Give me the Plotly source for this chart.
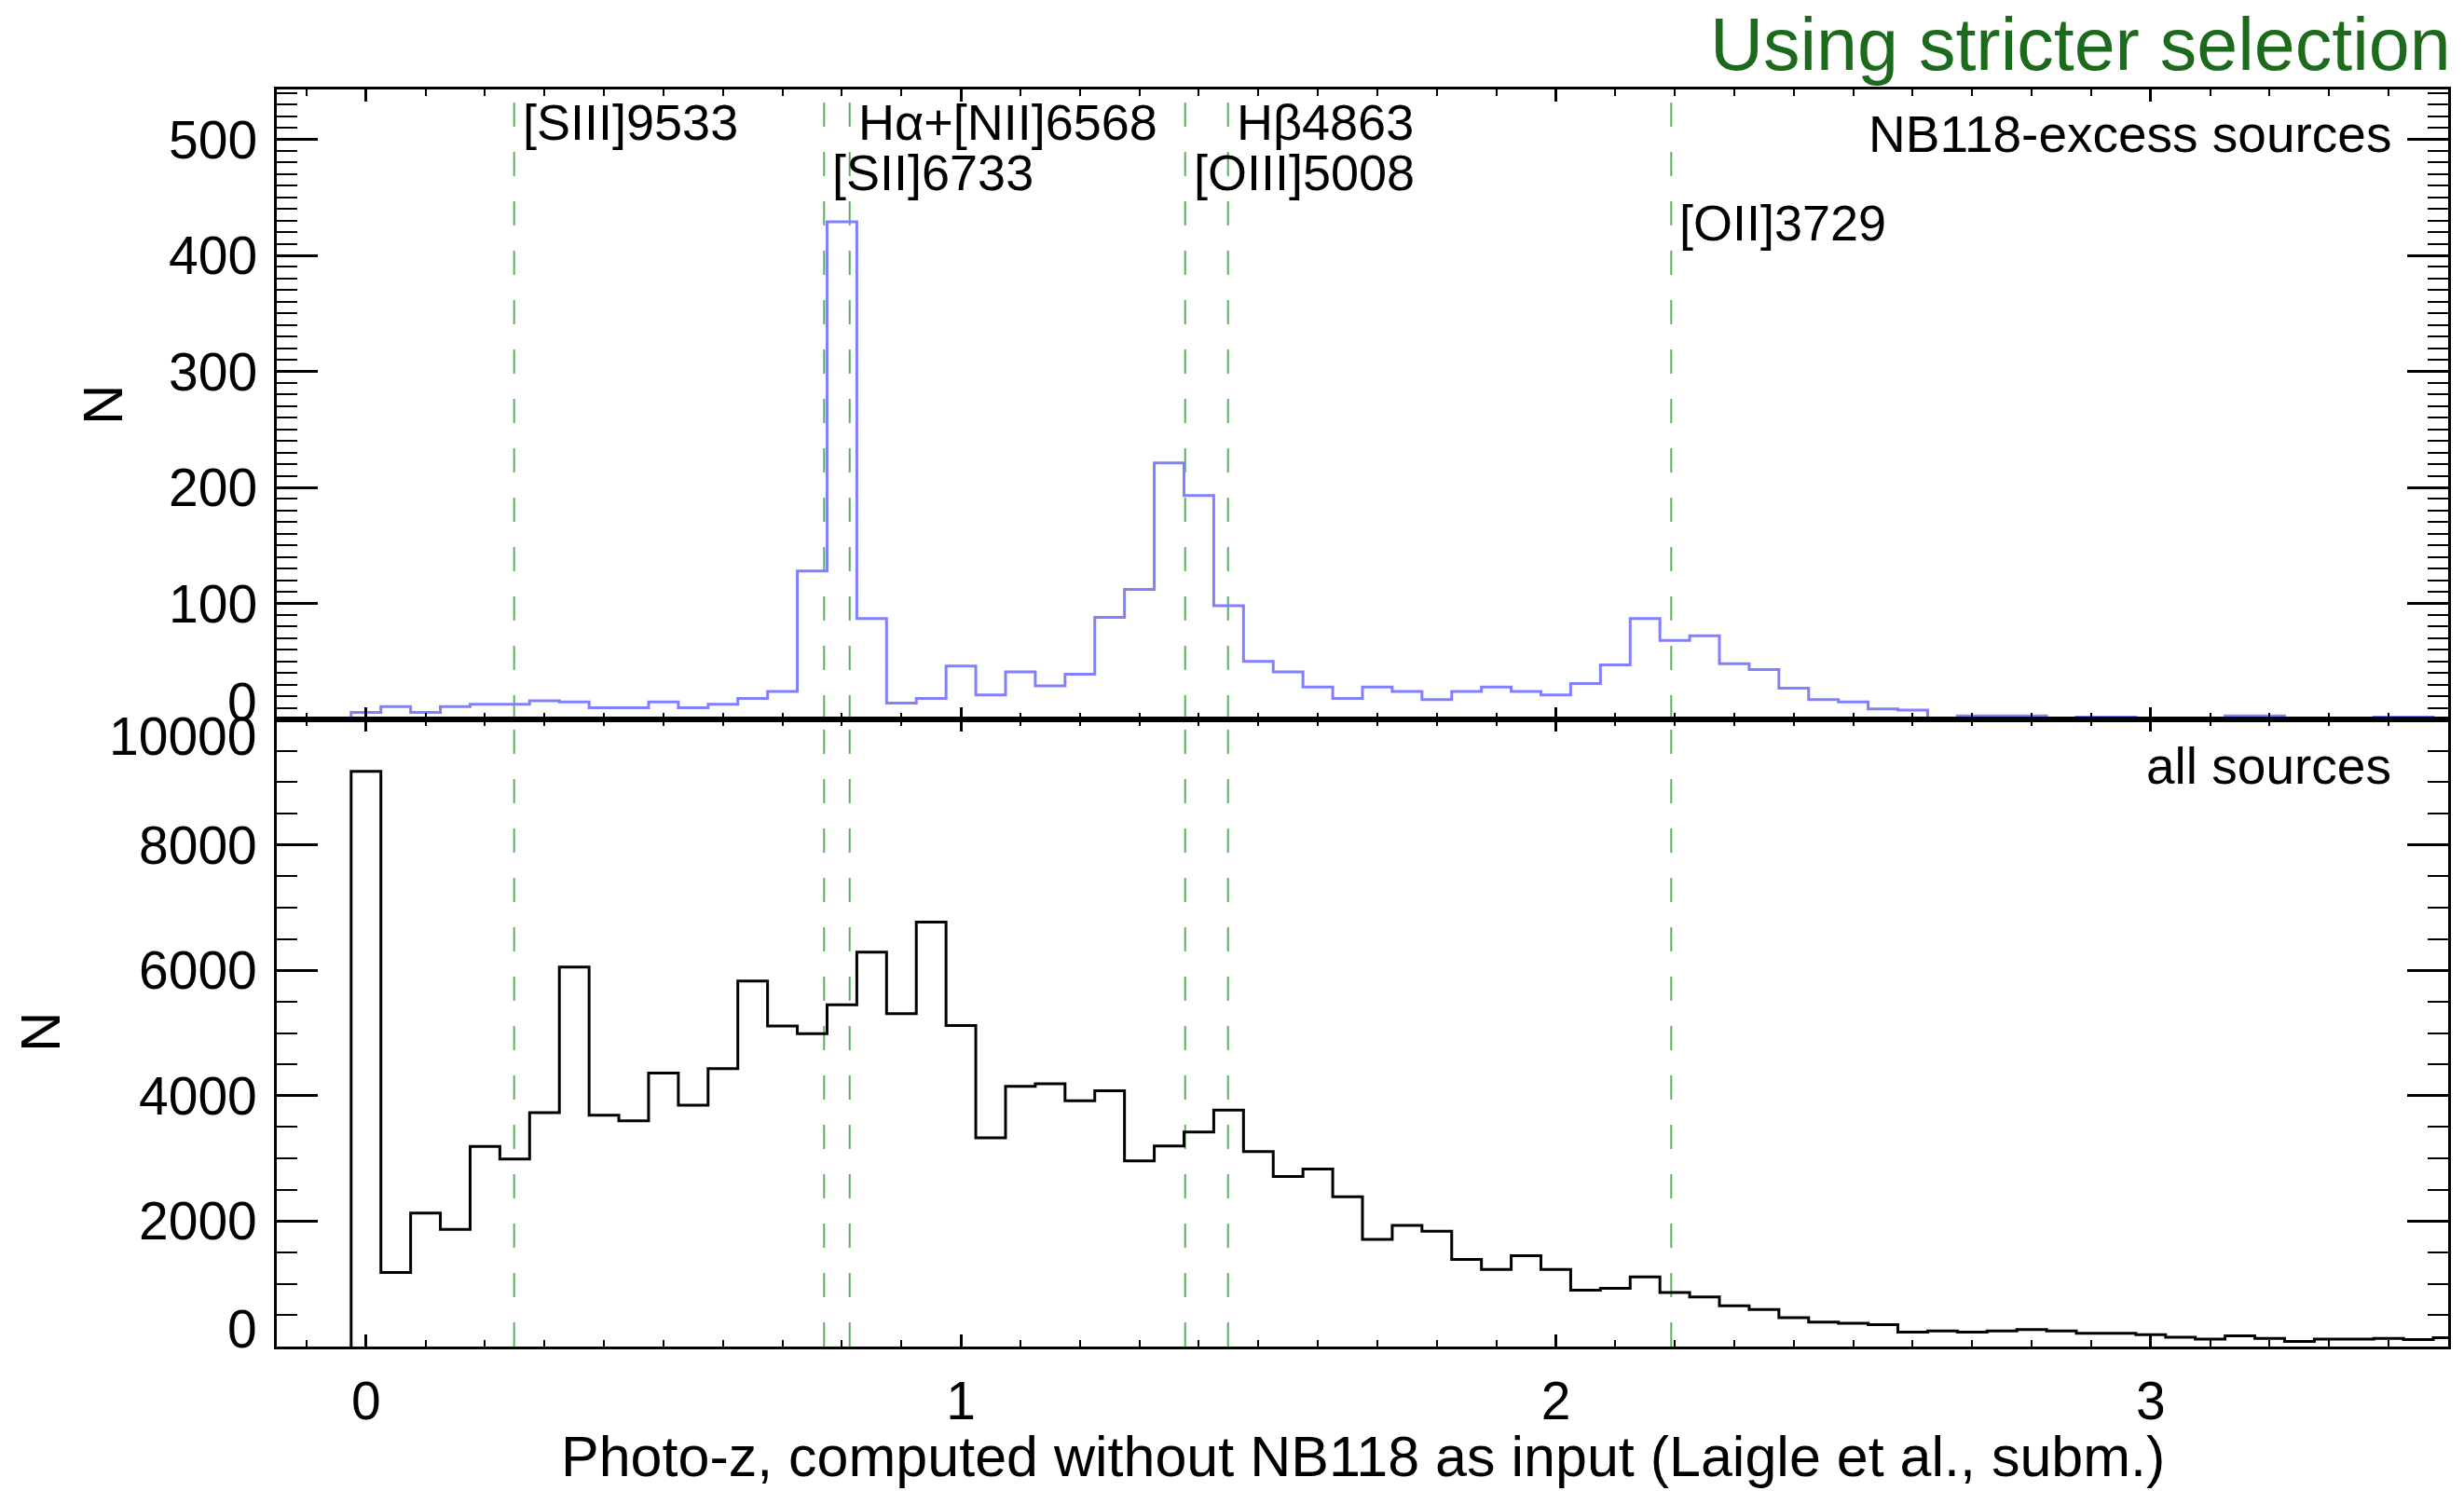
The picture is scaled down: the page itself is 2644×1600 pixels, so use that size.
import numpy as np
import plotly.graph_objects as go

# ---------------------------------------------------------------------------
# Photo-z histograms (bin width 0.05, bins centred on 0.00 ... 3.50)
# ---------------------------------------------------------------------------
BIN_WIDTH = 0.05
z_centers = np.round(np.arange(71) * BIN_WIDTH, 2)

# NB118-excess sources
n_excess = [
    6, 11, 6, 11, 13, 13, 16, 15, 10, 10,
    15, 10, 13, 18, 24, 128, 429, 87, 14, 18,
    46, 21, 41, 29, 39, 88, 112, 221, 193, 98,
    50, 41, 28, 18, 28, 24, 17, 24, 28, 24,
    21, 31, 47, 87, 68, 72, 48, 43, 27, 17,
    15, 9, 8, 1, 3, 3, 3, 1, 2, 2,
    0, 1, 1, 3, 3, 0, 1, 0, 2, 2,
    0,
]

# all sources
n_all = [
    9170, 1180, 2130, 1870, 3190, 2990, 3730, 6050, 3690, 3600,
    4360, 3850, 4430, 5830, 5110, 4990, 5450, 6290, 5310, 6770,
    5120, 3330, 4150, 4190, 3920, 4080, 2960, 3200, 3420, 3770,
    3110, 2710, 2830, 2390, 1710, 1930, 1840, 1390, 1230, 1450,
    1230, 900, 930, 1110, 860, 790, 650, 590, 460, 390,
    370, 350, 230, 250, 230, 250, 270, 250, 210, 210,
    190, 150, 120, 170, 130, 80, 120, 120, 130, 110,
    140,
]

# Emission lines falling in NB118 and the redshift at which they do
line_names = ["[SIII]9533", "[SII]6733", "H\u03b1+[NII]6568",
              "[OIII]5008", "H\u03b24863", "[OII]3729"]
line_z = [0.249, 0.770, 0.813, 1.377, 1.449, 2.194]
line_label_row = [0, 1, 0, 1, 0, 2]

# Axis ticks
x_ticks = [0, 1, 2, 3]
top_y_ticks = [0, 100, 200, 300, 400, 500]
bottom_y_ticks = [0, 2000, 4000, 6000, 8000, 10000]

X_RANGE = [-0.15, 3.5]
TOP_Y_RANGE = [0, 543]
BOTTOM_Y_RANGE = [0, 10000]

# ---------------------------------------------------------------------------
# Layout geometry (pixels on a 2644 x 1600 canvas)
# ---------------------------------------------------------------------------
W, H = 2644, 1600
PLOT_LEFT, PLOT_RIGHT = 297, 2627
TOP_PANEL = (96, 772)       # top / bottom pixel rows
BOTTOM_PANEL = (772, 1445)


def px_x(px):
    return px / W


def px_y(py):
    return 1 - py / H


FONT = "Liberation Sans, Arial, Helvetica, sans-serif"
BLUE = "#8080ff"
GREEN_LINE = "#5cb05c"
GREEN_TITLE = "#1c6a1c"


def step_xy(centers, counts, width):
    """Outline of a histogram drawn as a stepped line."""
    centers = np.asarray(centers, dtype=float)
    counts = np.asarray(counts, dtype=float)
    edges = np.append(centers - width / 2, centers[-1] + width / 2)
    x = np.concatenate([[edges[0]], edges])
    y = np.concatenate([[0.0], counts, [counts[-1]]])
    return x, y


fig = go.Figure()

xs, ys = step_xy(z_centers, n_excess, BIN_WIDTH)
fig.add_trace(go.Scatter(x=xs, y=ys, mode="lines", line_shape="hv",
                         line=dict(color=BLUE, width=3),
                         xaxis="x", yaxis="y", showlegend=False))

xs, ys = step_xy(z_centers, n_all, BIN_WIDTH)
fig.add_trace(go.Scatter(x=xs, y=ys, mode="lines", line_shape="hv",
                         line=dict(color="black", width=3),
                         xaxis="x2", yaxis="y2", showlegend=False))

# Dashed markers for the emission lines in both panels
shapes = []
for z in line_z:
    for xref, yref in (("x", "y domain"), ("x2", "y2 domain")):
        shapes.append(dict(type="line", xref=xref, yref=yref,
                           x0=z, x1=z, y0=0, y1=1,
                           line=dict(color=GREEN_LINE, width=2, dash="26px,27px"),
                           layer="below"))

x_dom = [px_x(PLOT_LEFT), px_x(PLOT_RIGHT)]
top_dom = [px_y(TOP_PANEL[1]), px_y(TOP_PANEL[0])]
bottom_dom = [px_y(BOTTOM_PANEL[1]), px_y(BOTTOM_PANEL[0])]


def x_axis(anchor, labels):
    return dict(domain=x_dom, range=X_RANGE, anchor=anchor,
                showline=True, linecolor="black", linewidth=3, mirror="ticks",
                ticks="inside", tickmode="array", tickvals=x_ticks,
                ticklen=13, tickwidth=3, tickcolor="black",
                minor=dict(dtick=0.1, tick0=0, ticks="inside", ticklen=7,
                           tickwidth=2, tickcolor="black", showgrid=False),
                showticklabels=labels, ticklabelstandoff=7,
                tickfont=dict(family=FONT, size=57, color="black"),
                showgrid=False, zeroline=False)


def y_axis(anchor, dom, rng, dtick, minor_dtick):
    return dict(domain=dom, range=rng, anchor=anchor,
                showline=True, linecolor="black", linewidth=3, mirror="ticks",
                ticks="inside", dtick=dtick, tick0=0,
                ticklen=44, tickwidth=3, tickcolor="black",
                minor=dict(dtick=minor_dtick, tick0=0, ticks="inside", ticklen=22,
                           tickwidth=2, tickcolor="black", showgrid=False),
                showticklabels=False, showgrid=False, zeroline=False)


annotations = []

# y tick labels; the end labels are nudged inwards so neighbours do not collide
for yref, ticks, top_val in (("y", top_y_ticks, None), ("y2", bottom_y_ticks, 10000)):
    for v in ticks:
        shift = 0
        if v == 0:
            shift = 19
        elif v == top_val:
            shift = -18
        annotations.append(dict(
            text=f"{v}", x=x_dom[0], xref="paper", y=v, yref=yref,
            xanchor="right", yanchor="middle", xshift=-19, yshift=shift,
            showarrow=False, font=dict(family=FONT, size=57, color="black")))

# emission line labels
row_y = [131, 185, 239]
for name, z, row in zip(line_names, line_z, line_label_row):
    annotations.append(dict(
        text=name, x=z, xref="x", y=px_y(row_y[row]), yref="paper",
        xanchor="left", yanchor="middle", xshift=7, showarrow=False,
        font=dict(family=FONT, size=54, color="black")))

# panel labels
annotations.append(dict(text="NB118-excess sources", x=px_x(2568), xref="paper",
                        y=px_y(144), yref="paper", xanchor="right", yanchor="middle",
                        showarrow=False, font=dict(family=FONT, size=55, color="black")))
annotations.append(dict(text="all sources", x=px_x(2568), xref="paper",
                        y=px_y(822), yref="paper", xanchor="right", yanchor="middle",
                        showarrow=False, font=dict(family=FONT, size=55, color="black")))

# axis titles
annotations.append(dict(text="N", x=px_x(110), xref="paper", y=px_y(434), yref="paper",
                        textangle=-90, xanchor="center", yanchor="middle", showarrow=False,
                        font=dict(family=FONT, size=60, color="black")))
annotations.append(dict(text="N", x=px_x(43), xref="paper", y=px_y(1108), yref="paper",
                        textangle=-90, xanchor="center", yanchor="middle", showarrow=False,
                        font=dict(family=FONT, size=60, color="black")))
annotations.append(dict(text="Photo-z, computed without NB118 as input (Laigle et al., subm.)",
                        x=px_x((PLOT_LEFT + PLOT_RIGHT) / 2), xref="paper",
                        y=px_y(1563), yref="paper", xanchor="center", yanchor="middle",
                        showarrow=False, font=dict(family=FONT, size=61, color="black")))

# figure title
annotations.append(dict(text="Using stricter selection", x=px_x(2632), xref="paper",
                        y=px_y(47), yref="paper", xanchor="right", yanchor="middle",
                        showarrow=False, font=dict(family=FONT, size=79, color=GREEN_TITLE)))

fig.update_layout(
    width=W, height=H, autosize=False,
    margin=dict(l=0, r=0, t=0, b=0, pad=0),
    paper_bgcolor="white", plot_bgcolor="white",
    xaxis=x_axis("y", False),
    yaxis=y_axis("x", top_dom, TOP_Y_RANGE, 100, 10),
    xaxis2=x_axis("y2", True),
    yaxis2=y_axis("x2", bottom_dom, BOTTOM_Y_RANGE, 2000, 500),
    shapes=shapes,
    annotations=annotations,
    showlegend=False,
)

fig.write_html("out.html")
